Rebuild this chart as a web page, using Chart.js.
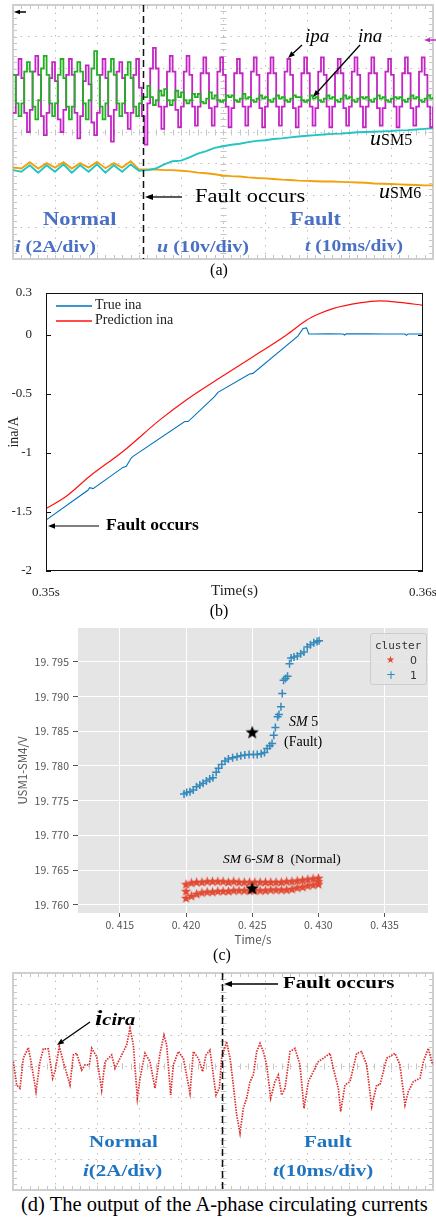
<!DOCTYPE html>
<html>
<head>
<meta charset="utf-8">
<script src="https://cdn.jsdelivr.net/npm/chart.js@4.4.0/dist/chart.umd.min.js"></script>
<style>
  body { margin: 0; width: 436px; height: 1218px; position: relative; overflow: hidden; background: #fff;
         font-family: "Liberation Serif", "Times New Roman", serif; }
  canvas { position: absolute; left: 0; }
  .t { position: absolute; white-space: nowrap; line-height: 1; transform-origin: 0 0; }
  .sa { transform: scaleX(1.18); }
  .sd { transform: scaleX(1.2); }
  .blueA { color: #4a70c4; font-weight: bold; }
  .blueD { color: #1f74c0; font-weight: bold; }
  .cap { position: absolute; white-space: nowrap; line-height: 1; text-align: center; }
  #marks { position: absolute; left: 0; top: 0; z-index: 3; pointer-events: none; }
</style>
</head>
<body>
<canvas id="chartA" width="436" height="262" style="top:0"></canvas>
<canvas id="chartB" width="436" height="322" style="top:280px"></canvas>
<canvas id="chartC" width="436" height="335" style="top:615px"></canvas>
<canvas id="chartD" width="436" height="228" style="top:965px"></canvas>

<!-- (a) labels -->
<div class="t" style="left:305px;top:25.5px;font-size:19px;font-style:italic">ipa</div>
<div class="t" style="left:358px;top:25.5px;font-size:19px;font-style:italic">ina</div>
<div class="t" style="left:370px;top:126.5px;font-size:22px"><i>u</i><span style="font-size:16px">SM5</span></div>
<div class="t" style="left:379px;top:179.5px;font-size:22px"><i>u</i><span style="font-size:16px">SM6</span></div>
<div class="t sa" style="left:195px;top:186px;font-size:19px">Fault occurs</div>
<div class="t sa blueA" style="left:43px;top:209px;font-size:19px">Normal</div>
<div class="t sa blueA" style="left:290px;top:209px;font-size:19px">Fault</div>
<div class="t sa blueA" style="left:15px;top:237.7px;font-size:17px"><i>i</i> (2A/div)</div>
<div class="t sa blueA" style="left:157px;top:237.7px;font-size:17px"><i>u</i> (10v/div)</div>
<div class="t sa blueA" style="left:305px;top:238px;font-size:16.5px"><i>t</i> (10ms/div)</div>
<div class="cap" style="left:189px;width:60px;top:261.6px;font-size:16px">(a)</div>

<!-- (b) labels -->
<div class="t" style="left:95px;top:298.2px;font-size:14px;color:#222">True ina</div>
<div class="t" style="left:95px;top:313.2px;font-size:14px;color:#222">Prediction ina</div>
<div class="t" style="left:106px;top:516px;font-size:17.5px;font-weight:bold">Fault occurs</div>
<div class="cap" style="left:189px;width:60px;top:602.6px;font-size:16px">(b)</div>

<!-- (c) labels -->
<div class="t" style="left:289px;top:715.2px;font-size:14px"><i>SM</i> 5</div>
<div class="t" style="left:284px;top:735.2px;font-size:14px">(Fault)</div>
<div class="t" style="left:223px;top:851.7px;font-size:13.5px"><i>SM</i> 6-<i>SM</i> 8&nbsp;&nbsp;(Normal)</div>
<div style="position:absolute;left:370px;top:633px;width:57px;height:52px;box-sizing:border-box;background:rgba(229,229,229,0.85);border:1px solid #cccccc;border-radius:3px"></div>
<div class="t" style="left:375px;top:639.5px;font-size:11px;font-family:'DejaVu Sans Mono',monospace;color:#333">cluster</div>
<div class="t" style="left:386px;top:655px;font-size:10px;font-family:'DejaVu Sans',sans-serif;color:#E24A33">★</div>
<div class="t" style="left:410px;top:655px;font-size:11px;font-family:'DejaVu Sans',sans-serif;color:#333">0</div>
<div class="t" style="left:386px;top:669px;font-size:12px;font-family:'DejaVu Sans',sans-serif;color:#348ABD">+</div>
<div class="t" style="left:410px;top:670px;font-size:11px;font-family:'DejaVu Sans',sans-serif;color:#333">1</div>
<div class="cap" style="left:192px;width:60px;top:946.6px;font-size:16px">(c)</div>

<!-- (d) labels -->
<div class="t sd" style="left:283px;top:974.3px;font-size:17.5px;font-weight:bold">Fault occurs</div>
<div class="t sd" style="left:95px;top:1006.5px;font-size:22px;font-weight:bold;font-style:italic">i<span style="font-size:17px">cira</span></div>
<div class="t sd blueD" style="left:89px;top:1133.3px;font-size:17.5px">Normal</div>
<div class="t sd blueD" style="left:304px;top:1133.3px;font-size:17.5px">Fault</div>
<div class="t sd blueD" style="left:83px;top:1162.3px;font-size:17.5px"><i>i</i>(2A/div)</div>
<div class="t sd blueD" style="left:273px;top:1162.3px;font-size:17.5px"><i>t</i>(10ms/div)</div>
<div class="t" style="left:21px;top:1193.8px;font-size:20.5px">(d) The output of the A-phase circulating currents</div>

<svg id="marks" width="436" height="1218">
  <line x1="56" y1="306" x2="92" y2="306" stroke="#0072BD" stroke-width="1.3"/>
  <line x1="56" y1="321" x2="92" y2="321" stroke="#FF1010" stroke-width="1.3"/>
</svg>

<script>
'use strict';

Chart.defaults.font.family = '"Liberation Serif", serif';
Chart.defaults.color = '#222';

// ---------- (a) scope trace: t in ms (10 ms/div), y in divisions
const dtFast = 4 / 6;   // sample step of the arm currents, ms
const dtSlow = 2;       // sample step of the capacitor voltages, ms
const faultA = 31;      // ms

const ipaDiv = [
  4.6, 5.8, 6.3, 5.7, 4.6, 4.0,  4.7, 5.9, 6.4, 5.8, 4.5, 3.9,  4.6, 5.7, 6.2, 5.6, 4.4, 4.0,
  4.7, 5.8, 6.3, 5.8, 4.6, 3.8,  4.5, 5.6, 6.1, 5.5, 4.3, 3.9,  4.6, 5.8, 6.3, 5.7, 4.5, 3.7,
  4.7, 5.9, 6.2, 5.7, 4.6, 4.1,  4.6, 5.8, 6.3, 5.4, 4.5, 3.6,
  4.9, 6.0, 6.65, 6.0, 4.8, 4.1,  4.8, 5.9, 6.4, 5.9, 4.7, 4.15,  4.8, 5.9, 6.4, 5.8, 4.8, 4.2,
  4.8, 5.85, 6.35, 5.85, 4.75, 4.2,  4.8, 5.9, 6.35, 5.8, 4.8, 4.15,  4.75, 5.85, 6.3, 5.85, 4.8, 4.2,
  4.8, 5.9, 6.35, 5.8, 4.75, 4.15,  4.8, 5.85, 6.35, 5.85, 4.8, 4.2,  4.8, 5.9, 6.3, 5.8, 4.75, 4.15,
  4.8, 5.85, 6.35, 5.85, 4.8, 4.2,  4.75, 5.9, 6.35, 5.8, 4.8, 4.15,  4.8, 5.85, 6.3, 5.85, 4.75, 4.2,
  4.8, 5.9, 6.35, 5.8, 4.8, 4.15,  4.8, 5.85, 6.35, 5.85, 4.75, 4.2,  4.75, 5.9, 6.3, 5.8, 4.8, 4.15,
  4.8, 5.85, 6.35, 5.85, 4.75, 4.2,  4.8, 5.9, 6.35, 5.8, 4.8, 4.15,  4.8
];
const inaDiv = [
  5.8, 4.9, 4.5, 4.9, 5.9, 6.2,  5.9, 4.8, 4.4, 5.0, 6.0, 6.4,  5.8, 4.9, 4.5, 4.9, 5.8, 6.3,
  5.7, 4.8, 4.4, 4.8, 5.9, 6.2,  5.9, 4.9, 4.4, 5.0, 6.0, 6.55,  5.8, 4.8, 4.4, 4.9, 5.9, 6.3,
  5.8, 4.9, 4.5, 4.9, 5.8, 6.2,  5.7, 4.8, 4.5, 4.9, 5.1, 5.1,
  5.45, 5.1, 4.85, 5.0, 5.3, 5.15, 5.35, 5.0, 4.85, 5.0, 5.3, 5.1,
  5.25, 5.0, 4.9, 5.0, 5.2, 5.1, 5.2, 4.95, 4.9, 5.05, 5.25, 5.05,
  5.15, 5.0, 4.95, 5.0, 5.15, 5.1, 5.15, 5.0, 4.95, 5.05, 5.2, 5.05,
  5.1, 5.0, 4.95, 5.05, 5.15, 5.05, 5.1, 5.0, 4.95, 5.05, 5.15, 5.05,
  5.1, 5.0, 4.95, 5.05, 5.15, 5.1, 5.1, 5.0, 4.95, 5.0, 5.15, 5.05,
  5.1, 5.0, 4.95, 5.05, 5.15, 5.05, 5.1, 5.0, 4.95, 5.05, 5.15, 5.05,
  5.1, 5.0, 4.95, 5.05, 5.1, 5.05, 5.1, 5.0, 4.95, 5.05, 5.15, 5.05,
  5.1, 5.0, 4.95, 5.05, 5.1, 5.05, 5.1, 5.0, 4.95, 5.05, 5.15, 5.05,
  5.1, 5.0, 4.95, 5.05, 5.15, 5.05, 5.1
];
const uSM5Div = [
  2.8, 2.75, 2.95, 2.72, 2.95, 2.75, 2.98, 2.72, 2.95, 2.75, 2.98, 2.72, 2.95, 2.75, 2.98, 2.78,
  2.8, 2.85, 2.98, 3.08, 3.1, 3.2, 3.32, 3.4, 3.5, 3.55, 3.6, 3.63, 3.68, 3.72, 3.74, 3.78,
  3.8, 3.83, 3.86, 3.88, 3.9, 3.92, 3.94, 3.95, 3.97, 3.99, 4.0, 4.01, 4.02, 4.03, 4.05, 4.06,
  4.08, 4.1, 4.12
];
const uSM6Div = [
  2.88, 2.85, 3.05, 2.85, 3.02, 2.88, 3.05, 2.85, 3.02, 2.88, 3.06, 2.86, 3.02, 2.88, 3.08, 2.82,
  2.82, 2.82, 2.8, 2.8, 2.78, 2.76, 2.72, 2.7, 2.67, 2.63, 2.61, 2.6, 2.57, 2.55, 2.54, 2.52,
  2.5, 2.49, 2.47, 2.46, 2.45, 2.44, 2.44, 2.43, 2.42, 2.41, 2.4, 2.38, 2.37, 2.36, 2.35, 2.34,
  2.33, 2.32, 2.32
];

// ---------- (b) true vs predicted ina
const trueT = [0.35, 0.35111, 0.35116, 0.35125, 0.35204, 0.35213, 0.35226, 0.35231, 0.35368, 0.35377,
  0.35447, 0.35456, 0.3554, 0.35549, 0.35668, 0.35682, 0.35691, 0.35697, 0.3571, 0.3575, 0.35788,
  0.35792, 0.35796, 0.3585, 0.359, 0.35952, 0.35956, 0.3596, 0.36];
const trueIna = [-1.57, -1.317, -1.295, -1.303, -1.124, -1.115, -1.045, -1.031, -0.736, -0.736,
  -0.525, -0.489, -0.334, -0.329, -0.014, 0.051, 0.056, 0.005, 0.004, 0.005, 0.004,
  -0.004, 0.005, 0.005, 0.004, 0.004, -0.007, 0.004, 0.004];
const predT = [0.35, 0.35054, 0.35116, 0.35204, 0.35302, 0.35372, 0.35452, 0.35549, 0.35637, 0.35691,
  0.35726, 0.35761, 0.35832, 0.35885, 0.35938, 0.36];
const predIna = [-1.472, -1.368, -1.199, -0.989, -0.722, -0.553, -0.385, -0.188, -0.006, 0.121,
  0.177, 0.219, 0.267, 0.284, 0.272, 0.247];
const bYTicks = [-2, -1.5, -1, -0.5, 0, 0.351];
const bYTickText = ['-2', '-1.5', '-1', '-0.5', '0', '0.3'];
const bXTicks = [0.35, 0.36];
const bXTickText = ['0.35s', '0.36s'];

// ---------- (c) clusters of USM1-SM4
const c1T = [0.41985, 0.42005, 0.4203, 0.42055, 0.42079, 0.42104, 0.42129, 0.42154, 0.42179, 0.42203,
  0.42228, 0.42246, 0.4227, 0.42295, 0.4232, 0.42352, 0.42385, 0.42414, 0.42444, 0.42476, 0.42509,
  0.42538, 0.42568, 0.42593, 0.42613, 0.42633, 0.4265, 0.42663, 0.42675, 0.42692, 0.42702, 0.42717,
  0.42727, 0.42737, 0.42752, 0.42767, 0.42782, 0.42794, 0.42816, 0.42841, 0.42866, 0.42891, 0.42916,
  0.4294, 0.42965, 0.4299, 0.43005];
const c1V = [19.77597, 19.77616, 19.7763, 19.77654, 19.77702, 19.77726, 19.7775, 19.77784, 19.77812,
  19.77832, 19.77908, 19.77966, 19.78023, 19.78071, 19.781, 19.78119, 19.78134, 19.78148, 19.78158,
  19.78167, 19.78167, 19.78167, 19.78177, 19.78196, 19.78253, 19.78292, 19.78325, 19.78445, 19.78556,
  19.78709, 19.78743, 19.78853, 19.79045, 19.79236, 19.7926, 19.79294, 19.79476, 19.79558, 19.79572,
  19.79586, 19.7962, 19.79644, 19.79716, 19.79749, 19.79778, 19.79797, 19.79807];
const c0T = [0.42, 0.4204, 0.4208, 0.4212, 0.4216, 0.422, 0.4224, 0.4228, 0.4232, 0.4236, 0.424, 0.4244,
  0.4248, 0.4252, 0.4256, 0.426, 0.4264, 0.4268, 0.4272, 0.4276, 0.428, 0.4284, 0.4288, 0.4292, 0.4296, 0.43];
const c0Upper = [19.7629, 19.7631, 19.7632, 19.7632, 19.7633, 19.7633, 19.7633, 19.7633, 19.7632, 19.7633,
  19.7632, 19.7632, 19.7632, 19.7632, 19.7632, 19.7632, 19.7632, 19.7632, 19.7632, 19.7633, 19.7633,
  19.7634, 19.7635, 19.7636, 19.7637, 19.7638];
const c0Lower = [19.7609, 19.7612, 19.7615, 19.7617, 19.7618, 19.7618, 19.7619, 19.7619, 19.7619, 19.762,
  19.762, 19.762, 19.762, 19.762, 19.762, 19.762, 19.7621, 19.7621, 19.7621, 19.7621, 19.7622,
  19.7624, 19.7625, 19.7627, 19.7628, 19.7629];
const c0JoinT = [0.42, 0.43];
const c0JoinV = [19.7619, 19.7633];
const centT = [0.425, 0.425];
const centV = [19.7848, 19.7623];
const cXTicks = [0.415, 0.42, 0.425, 0.43, 0.435];
const cXTickText = ['0. 415', '0. 420', '0. 425', '0. 430', '0. 435'];
const cYTicks = [19.76, 19.765, 19.77, 19.775, 19.78, 19.785, 19.79, 19.795];
const cYTickText = ['19. 760', '19. 765', '19. 770', '19. 775', '19. 780', '19. 785', '19. 790', '19. 795'];

// ---------- (d) circulating current, t in ms, i in A (2 A/div)
const faultD = 49.8;
const dT = [0.08, 0.87, 1.67, 2.46, 3.65, 4.44, 5.48, 6.43, 7.22, 8.41, 9.44, 10.0, 11.03, 11.98, 13.57,
  14.37, 15.16, 16.35, 17.14, 18.17, 18.73, 19.92, 21.11, 21.9, 23.49, 24.29, 25.48, 27.06, 27.86, 28.65,
  29.6, 30.24, 31.43, 32.62, 33.81, 35.0, 35.95, 36.59, 37.54, 38.17, 39.37, 40.56, 42.14, 42.94, 44.13,
  45.16, 45.95, 46.9, 48.33, 49.13, 49.68, 50.87, 51.67, 52.46, 53.25, 54.05, 54.84, 55.63, 56.43, 57.22,
  58.02, 58.81, 59.6, 60.4, 61.35, 62.38, 63.17, 63.97, 64.76, 65.95, 67.14, 68.33, 69.29, 70.32, 71.51,
  72.7, 73.89, 75.48, 76.27, 77.46, 78.02, 79.05, 80.24, 81.83, 83.02, 84.21, 85.4, 86.59, 87.38, 88.97,
  90.95, 92.14, 93.33, 94.13, 95.32, 96.9, 97.7, 98.89, 99.92];
const dI = [0.28, -1.22, -1.44, 0.5, 1.18, 0.07, -1.65, 0.28, 1.1, 1.1, -0.79, -0.36, 1.25, 0.28, -1.22,
  0.71, 0.82, -0.26, 0.07, 0.07, 1.14, 0.6, -1.55, 0.28, 0.71, -0.15, 0.5, 1.36, 2.43, 1.36,
  -2.08, -0.79, 0.82, 0.28, -1.44, 0.82, 2.0, 1.36, -1.87, 0.07, 0.93, 0.5, -1.76, 0.93, 0.5,
  -0.36, 0.71, 1.03, -1.87, -1.44, 0.5, 1.57, 0.5, -1.22, -3.16, -4.34, -2.73, -2.08, -1.01, -0.58,
  0.93, 1.46, 0.93, 0.07, -2.08, -1.01, -0.58, -1.87, -1.44, 0.93, 1.14, 0.07, -2.73, -1.01, -0.36,
  0.28, 0.5, 0.82, -0.15, -1.44, -2.94, -1.22, -1.01, 0.82, 0.93, 0.07, -2.62, -1.22, -1.22, 0.5,
  0.82, 0.07, -2.51, -1.65, -1.01, -0.79, 0.28, 1.14, 0.07];

// ---------- helpers
const pts = (xs, ys) => ys.map((v, i) => ({ x: xs[i], y: v }));
const sampled = (ys, dt) => ys.map((v, i) => ({ x: i * dt, y: v }));

// oscilloscope graticule: frame, dotted grid comes from the scales, minor ticks here
const scopeDeco = {
  id: 'scopeDeco',
  beforeDatasetsDraw(chart, args, o) {
    const { ctx, chartArea: a, scales: { x, y } } = chart;
    const cx = Math.round(x.getPixelForValue(o.cx)) + 0.5;
    const cy = Math.round(y.getPixelForValue(o.cy)) + 0.5;
    const mx = Math.abs(x.getPixelForValue(o.dx) - x.getPixelForValue(0)) / 5;
    const my = Math.abs(y.getPixelForValue(o.dy) - y.getPixelForValue(0)) / 5;
    ctx.save();
    ctx.strokeStyle = '#c6c6c6';
    ctx.lineWidth = 1;
    ctx.beginPath();
    for (let py = a.top; py <= a.bottom + 0.5; py += my) {
      const yy = Math.round(py) + 0.5;
      ctx.moveTo(cx - 3, yy); ctx.lineTo(cx + 3, yy);
      ctx.moveTo(a.left, yy); ctx.lineTo(a.left + 4, yy);
      ctx.moveTo(a.right - 4, yy); ctx.lineTo(a.right, yy);
    }
    for (let px = a.left; px <= a.right + 0.5; px += mx) {
      const xx = Math.round(px) + 0.5;
      ctx.moveTo(xx, cy - 3); ctx.lineTo(xx, cy + 3);
      ctx.moveTo(xx, a.top); ctx.lineTo(xx, a.top + 4);
      ctx.moveTo(xx, a.bottom - 4); ctx.lineTo(xx, a.bottom);
    }
    ctx.stroke();
    ctx.lineWidth = 2;
    ctx.strokeStyle = '#cfcfcf';
    ctx.strokeRect(a.left, a.top, a.width, a.height);
    ctx.restore();
  },
  afterDatasetsDraw(chart, args, o) {
    const { ctx, chartArea: a, scales: { x } } = chart;
    const fx = Math.round(x.getPixelForValue(o.fault)) + 0.5;
    ctx.save();
    ctx.strokeStyle = '#111';
    ctx.lineWidth = 1.5;
    ctx.setLineDash([7, 4]);
    ctx.beginPath();
    ctx.moveTo(fx, a.top); ctx.lineTo(fx, a.bottom);
    ctx.stroke();
    ctx.restore();
  }
};

function scopeScales(xMax, yMin, yMax, yStep) {
  const grid = { color: '#bdbdbd', drawTicks: false, lineWidth: 1 };
  const border = { display: false, dash: [1.5, 6] };
  return {
    x: { type: 'linear', min: 0, max: xMax, ticks: { display: false, stepSize: 10 }, grid, border,
         afterFit: s => { s.height = 0; s.paddingLeft = 0; s.paddingRight = 0; } },
    y: { type: 'linear', min: yMin, max: yMax, ticks: { display: false, stepSize: yStep }, grid, border,
         afterFit: s => { s.width = 0; s.paddingTop = 0; s.paddingBottom = 0; } }
  };
}

const trace = (data, color, w, extra) => Object.assign({
  data, borderColor: color, borderWidth: w, pointRadius: 0, fill: false, tension: 0
}, extra || {});

const base = { responsive: false, animation: false, events: [] };

// ---------- (a)
new Chart(document.getElementById('chartA'), {
  type: 'line',
  data: {
    datasets: [
      trace(sampled(inaDiv, dtFast), '#22b022', 1.8, { stepped: true }),
      trace(sampled(ipaDiv, dtFast), '#c424c4', 1.8, { stepped: true }),
      trace(sampled(uSM5Div, dtSlow), '#22c4c4', 1.9),
      trace(sampled(uSM6Div, dtSlow), '#f2a10c', 1.9)
    ]
  },
  options: Object.assign({}, base, {
    layout: { padding: { left: 13, right: 3, top: 5, bottom: 3 } },
    scales: scopeScales(100, 0, 8, 1),
    plugins: { legend: { display: false }, tooltip: { enabled: false },
               scopeDeco: { cx: 50, cy: 4, dx: 10, dy: 1, fault: faultA } }
  }),
  plugins: [scopeDeco]
});

// ---------- (b)
const frameB = {
  id: 'frameB',
  afterDraw(chart) {
    const { ctx, chartArea: a, scales: { y } } = chart;
    ctx.save();
    ctx.strokeStyle = '#111';
    ctx.lineWidth = 1;
    ctx.strokeRect(Math.round(a.left) + 0.5, Math.round(a.top) + 0.5, Math.round(a.width) - 1, Math.round(a.height) - 1);
    ctx.beginPath();
    y.ticks.forEach(t => {
      const py = Math.round(y.getPixelForValue(t.value)) + 0.5;
      ctx.moveTo(a.left, py); ctx.lineTo(a.left + 5, py);
      ctx.moveTo(a.right - 5, py); ctx.lineTo(a.right, py);
    });
    ctx.stroke();
    ctx.restore();
  }
};

new Chart(document.getElementById('chartB'), {
  type: 'line',
  data: {
    datasets: [
      trace(pts(trueT, trueIna), '#0072BD', 1.1, { label: 'True ina' }),
      trace(pts(predT, predIna), '#FF1010', 1.2, { label: 'Prediction ina', cubicInterpolationMode: 'monotone' })
    ]
  },
  options: Object.assign({}, base, {
    layout: { padding: { left: 0, right: 13, top: 13, bottom: 0 } },
    scales: {
      x: {
        type: 'linear', min: 0.35, max: 0.36,
        afterBuildTicks: s => { s.ticks = bXTicks.map(v => ({ value: v })); },
        afterFit: s => { s.height = 31; s.paddingLeft = 0; s.paddingRight = 0; },
        ticks: { autoSkip: false, maxRotation: 0, padding: 6, font: { size: 13 }, color: '#222',
                 callback: (v, i) => bXTickText[i] },
        grid: { display: false }, border: { display: false },
        title: { display: true, text: 'Time(s)', font: { size: 15 }, color: '#222', padding: { top: 0, bottom: 2 } }
      },
      y: {
        type: 'linear', min: -2, max: 0.351,
        afterBuildTicks: s => { s.ticks = bYTicks.map(v => ({ value: v })); },
        afterFit: s => { s.width = 46; s.paddingTop = 0; s.paddingBottom = 0; },
        ticks: { autoSkip: false, padding: 6, font: { size: 13 }, color: '#222',
                 callback: (v, i) => bYTickText[i] },
        grid: { display: false }, border: { display: false },
        title: { display: true, text: 'ina/A', font: { size: 14 }, color: '#222', padding: { top: 6, bottom: 0 } }
      }
    },
    plugins: { legend: { display: false }, tooltip: { enabled: false } }
  }),
  plugins: [frameB]
});

// ---------- (c)
function starMark(r, color) {
  const c = document.createElement('canvas');
  c.width = c.height = Math.ceil(r * 2 + 2);
  const g = c.getContext('2d');
  g.translate(c.width / 2, c.height / 2);
  g.beginPath();
  for (let k = 0; k < 10; k++) {
    const rr = k % 2 ? r * 0.42 : r;
    const ang = -Math.PI / 2 + k * Math.PI / 5;
    g.lineTo(rr * Math.cos(ang), rr * Math.sin(ang));
  }
  g.closePath();
  g.fillStyle = color;
  g.fill();
  return c;
}

const ggBack = {
  id: 'ggBack',
  beforeDraw(chart) {
    const { ctx, chartArea: a } = chart;
    ctx.save();
    ctx.fillStyle = '#E5E5E5';
    ctx.fillRect(a.left, a.top, a.width, a.height);
    ctx.restore();
  }
};

const redStar = starMark(5.4, '#E24A33');
const blackStar = starMark(7, '#000000');
const ggFont = { family: '"Noto Sans CJK SC", sans-serif', size: 10.5 };

new Chart(document.getElementById('chartC'), {
  type: 'scatter',
  data: {
    datasets: [
      { label: 'centre', data: pts(centT, centV), pointStyle: blackStar, pointRadius: 7 },
      { label: '1', data: pts(c1T, c1V), pointStyle: 'cross', pointRadius: 4, borderColor: '#348ABD', pointBorderWidth: 1.5 },
      { label: '0', data: pts(c0T, c0Upper).concat(pts(c0T, c0Lower), pts(c0JoinT, c0JoinV)),
        pointStyle: redStar, pointRadius: 5 }
    ]
  },
  options: Object.assign({}, base, {
    layout: { padding: { left: 0, right: 3, top: 13, bottom: 0 } },
    scales: {
      x: {
        type: 'linear', min: 0.41184, max: 0.43828,
        afterBuildTicks: s => { s.ticks = cXTicks.map(v => ({ value: v })); },
        afterFit: s => { s.height = 37; s.paddingLeft = 0; s.paddingRight = 0; },
        ticks: { autoSkip: false, maxRotation: 0, padding: 2, font: ggFont, color: '#555',
                 callback: (v, i) => cXTickText[i] },
        grid: { color: '#ffffff', lineWidth: 1, tickColor: '#555', tickLength: 4 },
        border: { display: false },
        title: { display: true, text: 'Time/s', font: { family: ggFont.family, size: 11.5 }, color: '#555',
                 padding: { top: 0, bottom: 3 } }
      },
      y: {
        type: 'linear', min: 19.7588, max: 19.7999,
        afterBuildTicks: s => { s.ticks = cYTicks.map(v => ({ value: v })); },
        afterFit: s => { s.width = 78; s.paddingTop = 0; s.paddingBottom = 0; },
        ticks: { autoSkip: false, padding: 4, font: ggFont, color: '#555',
                 callback: (v, i) => cYTickText[i] },
        grid: { color: '#ffffff', lineWidth: 1, tickColor: '#555', tickLength: 5 },
        border: { display: false },
        title: { display: true, text: 'USM1-SM4/V', font: { family: ggFont.family, size: 11.5 }, color: '#555',
                 padding: { top: 16, bottom: 0 } }
      }
    },
    plugins: { legend: { display: false }, tooltip: { enabled: false } }
  }),
  plugins: [ggBack]
});

// ---------- (d)
new Chart(document.getElementById('chartD'), {
  type: 'line',
  data: {
    datasets: [
      trace(pts(dT, dI), '#e02a2a', 1.7, { borderDash: [1.5, 1.2] })
    ]
  },
  options: Object.assign({}, base, {
    layout: { padding: { left: 13, right: 3, top: 8, bottom: 3 } },
    scales: scopeScales(100, -8, 6, 2),
    plugins: { legend: { display: false }, tooltip: { enabled: false },
               scopeDeco: { cx: 50, cy: 0, dx: 10, dy: 2, fault: faultD } }
  }),
  plugins: [scopeDeco]
});

// ---------- annotation arrows
const svg = document.getElementById('marks');
const NS = 'http://www.w3.org/2000/svg';
function arrow(x1, y1, x2, y2, color, w, head) {
  const ang = Math.atan2(y2 - y1, x2 - x1);
  const bx = x2 - head * Math.cos(ang), by = y2 - head * Math.sin(ang);
  const nx = -Math.sin(ang) * head * 0.38, ny = Math.cos(ang) * head * 0.38;
  const ln = document.createElementNS(NS, 'line');
  ln.setAttribute('x1', x1); ln.setAttribute('y1', y1);
  ln.setAttribute('x2', bx); ln.setAttribute('y2', by);
  ln.setAttribute('stroke', color); ln.setAttribute('stroke-width', w);
  svg.appendChild(ln);
  const tip = document.createElementNS(NS, 'polygon');
  tip.setAttribute('points', `${x2},${y2} ${bx + nx},${by + ny} ${bx - nx},${by - ny}`);
  tip.setAttribute('fill', color);
  svg.appendChild(tip);
}
arrow(302, 45, 288, 58, '#000', 1.3, 7);
arrow(360, 45, 313, 97, '#000', 1.3, 7);
arrow(182, 197, 145, 197, '#000', 1.3, 8);
arrow(26, 12, 14, 12, '#000', 1.5, 6);
arrow(436, 40, 424, 40, '#c424c4', 1.5, 6);
arrow(99, 526, 48, 526, '#000', 1.2, 7);
arrow(278, 984, 224, 984, '#000', 1.3, 8);
arrow(90, 1022, 57, 1045, '#000', 1.3, 7);
</script>
</body>
</html>
